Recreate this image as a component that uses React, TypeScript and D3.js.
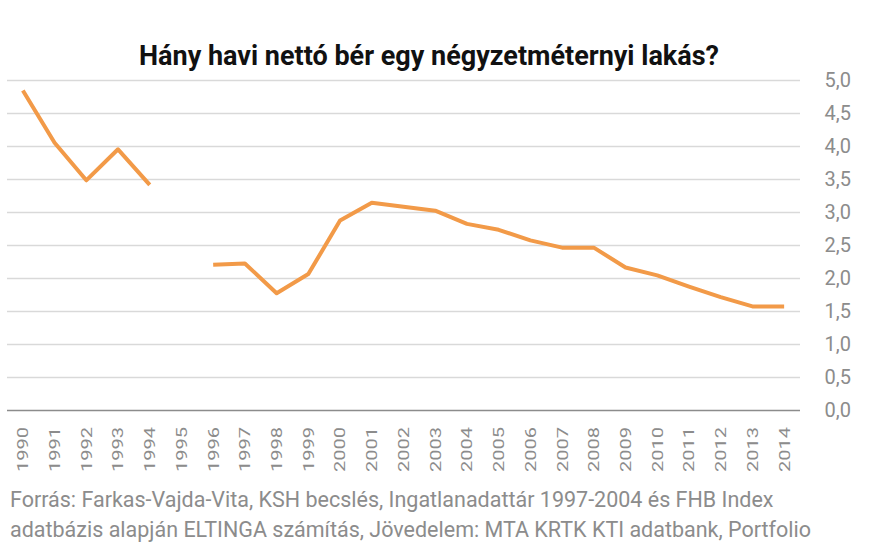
import React, { useEffect, useRef } from "react";
import * as d3 from "d3";

const years = [
  "1990", "1991", "1992", "1993", "1994", "1995", "1996", "1997", "1998", "1999",
  "2000", "2001", "2002", "2003", "2004", "2005", "2006", "2007", "2008", "2009",
  "2010", "2011", "2012", "2013", "2014",
];
// null = no data (gap in line)
const values: (number | null)[] = [
  4.84, 4.05, 3.48, 3.95, 3.41, null, 2.2, 2.22, 1.77, 2.06,
  2.87, 3.14, 3.08, 3.02, 2.82, 2.73, 2.57, 2.46, 2.46, 2.16,
  2.04, 1.87, 1.71, 1.57, 1.57,
];
const yTicks = [0, 0.5, 1, 1.5, 2, 2.5, 3, 3.5, 4, 4.5, 5];
const title = "Hány havi nettó bér egy négyzetméternyi lakás?";
const sourceLines = [
  "Forrás: Farkas-Vajda-Vita, KSH becslés, Ingatlanadattár 1997-2004 és FHB Index",
  "adatbázis alapján ELTINGA számítás, Jövedelem: MTA KRTK KTI adatbank, Portfolio",
];

const width = 869;
const height = 551;
const margin = { top: 80, right: 69, bottom: 141, left: 7 };

const App = () => {
  const svgRef = useRef<SVGSVGElement>(null);

  useEffect(() => {
    const svg = d3.select(svgRef.current);
    svg.selectAll("*").remove();

    const x = d3
      .scaleBand()
      .domain(years)
      .range([margin.left, width - margin.right]);
    const y = d3
      .scaleLinear()
      .domain([0, 5])
      .range([height - margin.bottom, margin.top]);

    svg.append("rect").attr("width", width).attr("height", height).attr("fill", "#fff");

    // title
    svg
      .append("text")
      .attr("x", 429)
      .attr("y", 65)
      .attr("text-anchor", "middle")
      .style("font-family", "Roboto")
      .style("font-weight", 700)
      .style("font-size", "27px")
      .attr("fill", "#111")
      .text(title);

    // gridlines
    svg
      .append("g")
      .selectAll("line")
      .data(yTicks.filter((t) => t > 0))
      .enter()
      .append("line")
      .attr("x1", margin.left)
      .attr("x2", width - margin.right)
      .attr("y1", (d) => Math.round(y(d)) + 0.5)
      .attr("y2", (d) => Math.round(y(d)) + 0.5)
      .attr("stroke", "#d9d9d9")
      .attr("stroke-width", 1.5);

    // base axis line
    svg
      .append("line")
      .attr("x1", margin.left)
      .attr("x2", width - margin.right)
      .attr("y1", y(0) + 0.5)
      .attr("y2", y(0) + 0.5)
      .attr("stroke", "#8c8c8c")
      .attr("stroke-width", 1.5);

    // y labels (right side)
    svg
      .append("g")
      .selectAll("text")
      .data(yTicks)
      .enter()
      .append("text")
      .attr("x", 851)
      .attr("y", (d) => y(d))
      .attr("dy", "0.36em")
      .attr("text-anchor", "end")
      .style("font-family", "Roboto")
      .style("font-size", "20px")
      .attr("fill", "#8c8c8c")
      .text((d) => d3.format(".1f")(d).replace(".", ","));

    // x labels, rotated
    svg
      .append("g")
      .selectAll("text")
      .data(years)
      .enter()
      .append("text")
      .attr(
        "transform",
        (d) => `translate(${(x(d) as number) + x.bandwidth() / 2},427) rotate(-90)`
      )
      .attr("dy", "0.36em")
      .attr("text-anchor", "end")
      .attr("textLength", 45)
      .attr("lengthAdjust", "spacingAndGlyphs")
      .style("font-family", "Roboto")
      .style("font-size", "15px")
      .attr("fill", "#8c8c8c")
      .text((d) => d);

    // line
    const line = d3
      .line<number | null>()
      .defined((d) => d !== null)
      .x((_, i) => (x(years[i]) as number) + x.bandwidth() / 2)
      .y((d) => y(d as number));

    svg
      .append("path")
      .datum(values)
      .attr("d", line)
      .attr("fill", "none")
      .attr("stroke", "#f29a48")
      .attr("stroke-width", 4)
      .attr("stroke-linejoin", "round");

    // source
    svg
      .append("g")
      .selectAll("text")
      .data(sourceLines)
      .enter()
      .append("text")
      .attr("x", 10)
      .attr("y", (_, i) => 507 + i * 30)
      .style("font-family", "Roboto")
      .style("font-size", "21.5px")
      .attr("fill", "#8c8c8c")
      .text((d) => d);
  }, []);

  return (
    <svg
      ref={svgRef}
      width={width}
      height={height}
      style={{ position: "absolute", left: 0, top: 0 }}
    />
  );
};

export default App;
